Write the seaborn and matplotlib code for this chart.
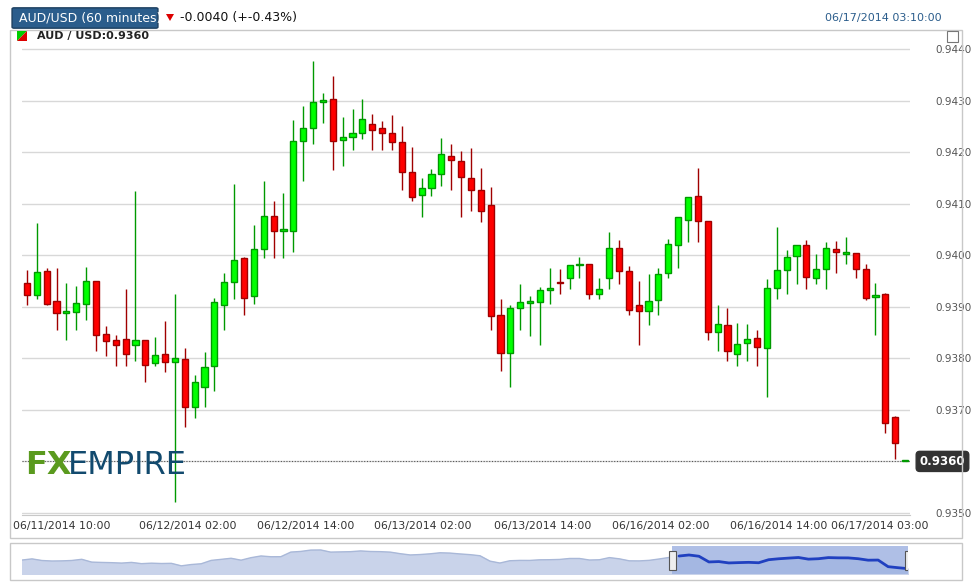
import numpy as np
import pandas as pd
import seaborn as sns
import matplotlib.pyplot as plt
from matplotlib.patches import Rectangle, FancyBboxPatch, Polygon

# hourly candles, prices in pips (0.0001)
opens = [9394.7, 9392.3, 9396.9, 9391.2, 9388.8, 9389.0, 9390.6, 9395.1, 9384.8, 9383.5,
         9383.7, 9382.5, 9383.5, 9379.0, 9380.8, 9379.2, 9379.8, 9370.6, 9374.5, 9378.6,
         9390.4, 9394.9, 9399.4, 9392.0, 9401.2, 9407.6, 9404.8, 9404.8, 9422.2, 9424.7,
         9429.8, 9430.3, 9422.3, 9422.9, 9423.8, 9425.5, 9424.6, 9423.7, 9422.0, 9416.1,
         9411.6, 9413.0, 9415.7, 9419.2, 9418.3, 9415.0, 9412.6, 9409.7, 9388.5, 9381.1,
         9389.7, 9390.8, 9391.0, 9393.2, 9394.8, 9395.5, 9398.1, 9398.4, 9392.4, 9395.5,
         9401.5, 9396.9, 9390.3, 9389.1, 9391.4, 9396.5, 9401.9, 9406.8, 9411.5, 9406.6,
         9385.2, 9386.4, 9380.9, 9382.9, 9383.9, 9382.1, 9393.6, 9397.2, 9399.8, 9401.9,
         9395.6, 9397.3, 9401.2, 9400.3, 9400.4, 9397.3, 9391.9, 9392.4, 9368.6, 9360.0]
closes = [9392.3, 9396.7, 9390.6, 9388.7, 9389.2, 9390.7, 9395.1, 9384.6, 9383.4, 9382.5,
          9380.9, 9383.5, 9378.8, 9380.6, 9379.3, 9380.0, 9370.6, 9375.5, 9378.4, 9391.0,
          9394.9, 9399.0, 9391.8, 9401.2, 9407.6, 9404.7, 9404.9, 9422.2, 9424.6, 9429.7,
          9430.1, 9422.1, 9422.9, 9423.7, 9426.5, 9424.4, 9423.8, 9422.0, 9416.1, 9411.4,
          9413.0, 9415.7, 9419.6, 9418.4, 9415.2, 9412.6, 9408.5, 9388.3, 9381.1, 9389.7,
          9391.0, 9390.9, 9393.2, 9393.6, 9394.6, 9398.2, 9398.2, 9392.4, 9393.4, 9401.5,
          9396.9, 9389.4, 9389.1, 9391.2, 9396.3, 9402.1, 9407.4, 9411.3, 9406.6, 9385.2,
          9386.6, 9381.5, 9382.7, 9383.7, 9382.2, 9393.6, 9397.1, 9399.6, 9401.9, 9395.7,
          9397.3, 9401.5, 9400.6, 9400.4, 9397.3, 9391.8, 9392.3, 9367.5, 9363.6, 9360.0]
highs = [9397.1, 9406.3, 9397.5, 9397.5, 9394.6, 9394.1, 9397.8, 9395.1, 9386.2, 9384.6,
         9393.5, 9412.5, 9383.5, 9384.2, 9387.2, 9392.5, 9382.0, 9376.7, 9381.2, 9391.7,
         9396.5, 9413.9, 9399.6, 9405.8, 9414.5, 9410.5, 9412.1, 9426.2, 9428.9, 9437.7,
         9431.4, 9434.8, 9426.9, 9428.3, 9430.3, 9427.5, 9426.0, 9427.3, 9425.1, 9421.0,
         9414.9, 9416.8, 9422.8, 9421.6, 9420.2, 9420.9, 9417.0, 9413.2, 9391.6, 9390.3,
         9394.5, 9392.0, 9393.8, 9397.5, 9397.4, 9398.2, 9399.7, 9398.4, 9395.5, 9404.5,
         9402.9, 9398.0, 9395.1, 9396.3, 9397.6, 9403.2, 9407.4, 9411.3, 9417.0, 9406.6,
         9390.3, 9389.7, 9386.8, 9386.6, 9385.5, 9395.3, 9405.5, 9401.0, 9401.9, 9402.9,
         9400.2, 9402.6, 9402.7, 9403.5, 9400.4, 9398.3, 9394.7, 9392.7, 9368.8, 9360.0]
lows = [9390.4, 9391.5, 9390.4, 9385.5, 9383.5, 9385.5, 9387.5, 9381.5, 9380.5, 9378.5,
        9378.5, 9379.5, 9375.5, 9378.5, 9377.4, 9352.2, 9366.6, 9368.5, 9370.5, 9373.6,
        9385.5, 9391.5, 9388.5, 9390.5, 9399.5, 9399.5, 9399.5, 9400.6, 9414.5, 9421.5,
        9425.6, 9416.5, 9417.4, 9420.5, 9422.5, 9420.5, 9420.5, 9420.5, 9412.6, 9410.5,
        9407.5, 9411.5, 9413.5, 9412.6, 9407.5, 9408.5, 9406.5, 9385.5, 9377.5, 9374.5,
        9385.5, 9384.4, 9382.5, 9390.5, 9392.5, 9393.5, 9395.5, 9391.5, 9391.5, 9393.5,
        9394.5, 9388.5, 9382.5, 9386.5, 9388.5, 9395.5, 9397.5, 9402.5, 9402.5, 9383.5,
        9381.5, 9379.5, 9378.5, 9379.5, 9378.5, 9372.5, 9391.5, 9392.5, 9394.5, 9393.5,
        9394.5, 9393.5, 9396.5, 9398.4, 9395.5, 9391.4, 9384.6, 9365.5, 9360.4, 9360.0]

tick_pos = [3.55, 16.3, 28.3, 40.1, 52.3, 64.2, 76.2, 86.4]
tick_labels = ["06/11/2014 10:00", "06/12/2014 02:00", "06/12/2014 14:00", "06/13/2014 02:00",
               "06/13/2014 14:00", "06/16/2014 02:00", "06/16/2014 14:00", "06/17/2014 03:00"]
y_ticks = [0.9350, 0.9360, 0.9370, 0.9380, 0.9390, 0.9400, 0.9410, 0.9420, 0.9430, 0.9440]
last_price = 0.9360

df = pd.DataFrame({"open": opens, "high": highs, "low": lows, "close": closes}) / 10000
df["x"] = np.arange(len(df))
df["up"] = df["close"] >= df["open"]

sns.set_style("white")
plt.rcParams["font.family"] = ["DejaVu Sans"]

W, H = 976, 585
fig = plt.figure(figsize=(W / 100, H / 100), dpi=100)

def fx(px):
    return px / W

def fy(py):
    return 1 - py / H

# outer frames
fig.patches.append(Rectangle((fx(10), fy(538)), fx(952), 508 / H, transform=fig.transFigure,
                             fill=False, edgecolor="#c8c8c8", lw=1))
fig.patches.append(Rectangle((fx(10), fy(580)), fx(952), 37 / H, transform=fig.transFigure,
                             fill=False, edgecolor="#c8c8c8", lw=1))

ax = fig.add_axes([fx(22), fy(515), fx(888), 470 / H])
ax.set_xlim(-0.5, 89.5)
ax.set_ylim(0.93496, 0.94408)

for _, r in df.iterrows():
    face = "#00ff00" if r.up else "#ff0000"
    edge = "#009900" if r.up else "#a00000"
    ax.vlines(r.x, r.low, r.high, color=edge, lw=1, zorder=2)
    lo, hi = min(r.open, r.close), max(r.open, r.close)
    ax.bar(r.x, max(hi - lo, 0.00003), bottom=lo, width=0.62, color=face, edgecolor=edge,
           lw=1, zorder=3)

# the last-price box sits on top of the 0.9360 tick label, so leave that label blank
ax.set_yticks(y_ticks)
ax.grid(axis="y", color="#d8d8d8", lw=1)
ax.yaxis.tick_right()
ax.set_yticklabels(["" if v == last_price else "%.4f" % v for v in y_ticks],
                   fontsize=7.5, color="#555555")
ax.tick_params(axis="y", length=0, pad=18)
ax.set_xticks(tick_pos)
ax.set_xticklabels(tick_labels, fontsize=7.8, color="#333333")
ax.tick_params(axis="x", length=0, pad=4)
for s in ax.spines.values():
    s.set_visible(False)
ax.spines["bottom"].set_visible(True)
ax.spines["bottom"].set_color("#c8c8c8")

ax.axhline(last_price, color="#555555", lw=0.8, ls=(0, (1, 1.5)), zorder=1)
ax.annotate("%.4f" % last_price, xy=(1.0, last_price), xycoords=("axes fraction", "data"),
            xytext=(7, 0), textcoords="offset points", fontsize=8.5, fontweight="bold",
            color="white", va="center",
            bbox=dict(boxstyle="round,pad=0.3", fc="#333333", ec="#333333"))

# logo
fig.text(fx(25), fy(466), "FX", fontsize=23, fontweight="bold", color="#5a9a1e", va="center")
fig.text(fx(68), fy(466), "EMPIRE", fontsize=23, color="#124a6e", va="center")

# header
fig.patches.append(FancyBboxPatch((fx(14), fy(27)), fx(142), 18 / H, transform=fig.transFigure,
                                  boxstyle="round,pad=0.002", fc="#2b5d8c", ec="#1d3f60"))
fig.text(fx(19), fy(18), "AUD/USD (60 minutes)", fontsize=9, color="white", va="center")
fig.patches.append(Polygon([[fx(166), fy(14)], [fx(174), fy(14)], [fx(170), fy(21)]],
                           closed=True, transform=fig.transFigure, fc="#dd0000", ec="none"))
fig.text(fx(180), fy(18), "-0.0040 (+-0.43%)", fontsize=9, color="#111111", va="center")
fig.text(fx(942), fy(18), "06/17/2014 03:10:00", fontsize=8, color="#2b5d8c", va="center", ha="right")
fig.patches.append(Polygon([[fx(17), fy(31)], [fx(27), fy(31)], [fx(17), fy(41)]], closed=True,
                           transform=fig.transFigure, fc="#00cc00", ec="none"))
fig.patches.append(Polygon([[fx(27), fy(31)], [fx(27), fy(41)], [fx(17), fy(41)]], closed=True,
                           transform=fig.transFigure, fc="#dd0000", ec="none"))
fig.text(fx(37), fy(36), "AUD / USD:0.9360", fontsize=8, fontweight="bold", color="#222222", va="center")
fig.patches.append(Rectangle((fx(947), fy(42)), fx(11), 11 / H, transform=fig.transFigure,
                             fc="white", ec="#777777", lw=0.8))

# navigator
nav = fig.add_axes([fx(22), fy(574), fx(886), 28 / H])
koff = 65.3
sns.lineplot(x=df["x"], y=df["close"], ax=nav, color="#a9b8d8", lw=1)
nav.fill_between(df["x"], df["close"], 0.934, color="#c9d3ea")
nav.axvspan(koff, 89, color="#9bb0e0", alpha=0.8, lw=0)
sel = df[df["x"] >= koff]
nav.plot(sel["x"], sel["close"], color="#2040c0", lw=2)
nav.set_xlim(0, 89)
nav.set_ylim(0.934, 0.9445)
nav.set_xticks([])
nav.set_yticks([])
nav.set_xlabel("")
nav.set_ylabel("")
for s in nav.spines.values():
    s.set_visible(False)
for xh in (koff, 89):
    nav.add_patch(Rectangle((xh - 0.35, 0.9355), 0.7, 0.007, fc="#eeeeee", ec="#555555", lw=0.8,
                            zorder=5))

fig.savefig("out.png", dpi=100)
